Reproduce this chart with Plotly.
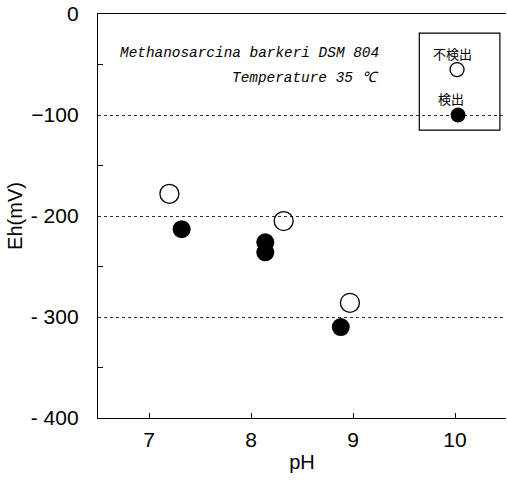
import plotly.graph_objects as go

# Data
ph_open = [7.20, 8.32, 8.97]          # 不検出 (not detected)
eh_open = [-178, -205, -286]
ph_filled = [7.32, 8.14, 8.14, 8.88]  # 検出 (detected)
eh_filled = [-213, -226, -236, -310]

x_ticks = [7, 8, 9, 10]
y_ticks = [-400, -300, -200, -100, 0]
y_tick_text = ["- 400", "- 300", "- 200", "−100", "0"]

legend_labels = ["不検出", "検出"]
legend_x = [10.02, 10.03]
legend_y = [-55, -100]

fig = go.Figure()

fig.add_trace(go.Scatter(
    x=ph_open, y=eh_open, mode="markers",
    marker=dict(symbol="circle-open", size=19, color="black", line=dict(width=1.3)),
    showlegend=False, hoverinfo="skip"))
fig.add_trace(go.Scatter(
    x=ph_filled, y=eh_filled, mode="markers",
    marker=dict(symbol="circle", size=18, color="black"),
    showlegend=False, hoverinfo="skip"))

# hand-drawn style legend box
fig.add_shape(type="rect", xref="x", yref="y", x0=9.65, x1=10.44, y0=-115, y1=-19,
              line=dict(color="black", width=1.2), fillcolor="rgba(0,0,0,0)")
fig.add_trace(go.Scatter(
    x=[legend_x[0]], y=[legend_y[0]], mode="markers",
    marker=dict(symbol="circle-open", size=14, color="black", line=dict(width=1.3)),
    showlegend=False, hoverinfo="skip"))
fig.add_trace(go.Scatter(
    x=[legend_x[1]], y=[legend_y[1]], mode="markers",
    marker=dict(symbol="circle", size=15, color="black"),
    showlegend=False, hoverinfo="skip"))

cjk = "Noto Sans CJK JP"
fig.add_annotation(x=9.975, y=-39.5, xref="x", yref="y", text=legend_labels[0],
                   showarrow=False, font=dict(family=cjk, size=13, color="black"))
fig.add_annotation(x=9.96, y=-83.5, xref="x", yref="y", text=legend_labels[1],
                   showarrow=False, font=dict(family=cjk, size=13, color="black"))

mono = "Liberation Mono"
fig.add_annotation(x=9.27, y=-39, xref="x", yref="y", xanchor="right",
                   text="<i>Methanosarcina barkeri DSM 804</i>", showarrow=False,
                   font=dict(family=mono, size=14.4, color="black"))
fig.add_annotation(x=9.27, y=-63, xref="x", yref="y", xanchor="right",
                   text="<i>Temperature 35 ℃</i>", showarrow=False,
                   font=dict(family=mono, size=14.4, color="black"))

axis_font = dict(family="Liberation Sans", size=21, color="black")

fig.update_xaxes(
    range=[6.5, 10.5], tickvals=x_ticks, ticks="inside", ticklen=5,
    tickcolor="black", showline=True, linecolor="black", linewidth=1.3,
    mirror=True, showgrid=False, zeroline=False, tickfont=axis_font,
    ticklabelstandoff=3,
    title=dict(text="pH", font=dict(family="Liberation Sans", size=20, color="black"),
               standoff=4))
fig.update_yaxes(
    range=[-400, 0], tickvals=y_ticks, ticktext=y_tick_text, ticks="",
    showline=True, linecolor="black", linewidth=1.3, showgrid=True,
    gridcolor="#333333", griddash="dot", gridwidth=1, zeroline=False,
    tickfont=axis_font, ticklabelstandoff=14,
    minor=dict(ticks="inside", ticklen=5, tick0=-50, dtick=100, tickcolor="black",
               showgrid=False),
    title=dict(text="Eh(mV)", font=dict(family="Liberation Sans", size=20, color="black"),
               standoff=2))

fig.update_layout(
    width=507, height=480, margin=dict(l=98, r=1, t=14, b=62),
    paper_bgcolor="white", plot_bgcolor="white", showlegend=False)

fig.write_html("out.html")
